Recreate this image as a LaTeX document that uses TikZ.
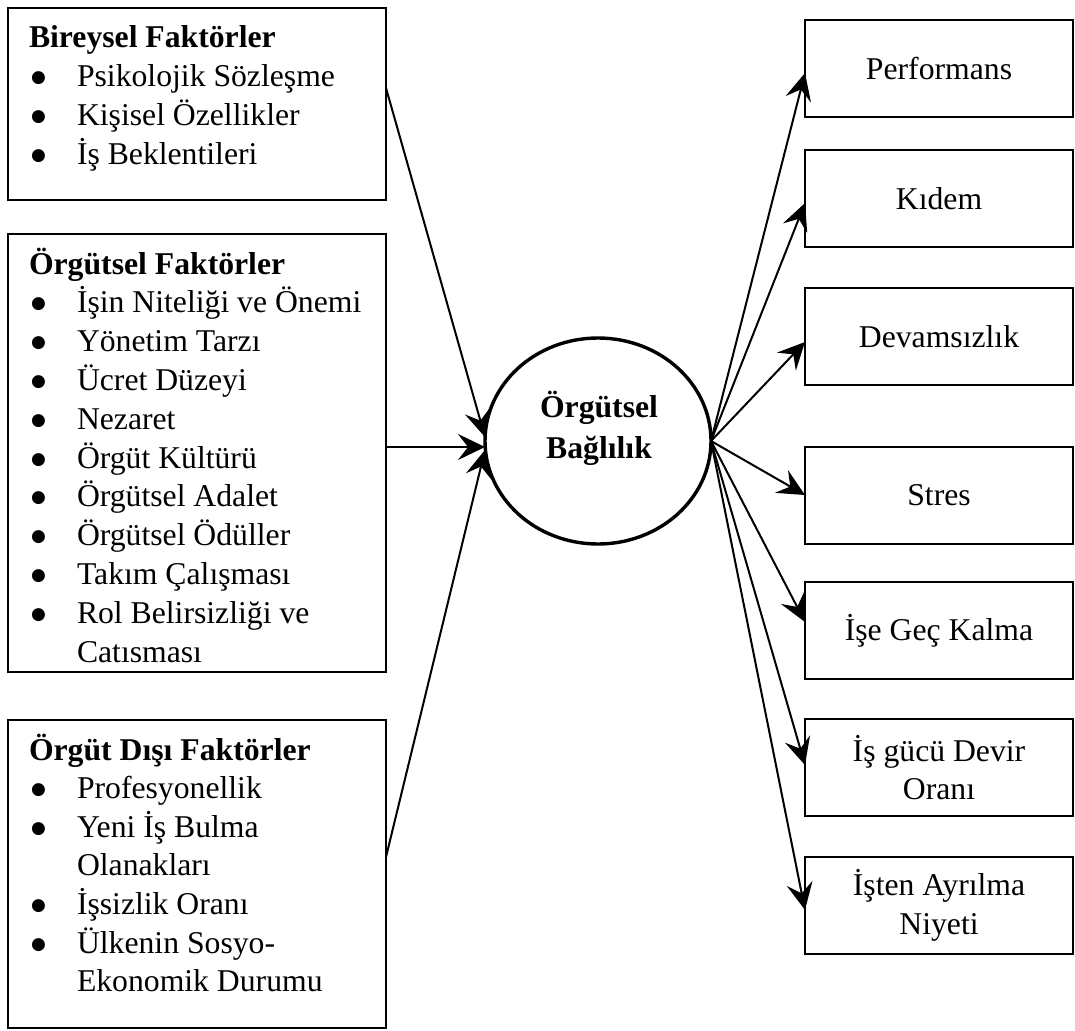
\documentclass[tikz,border=0pt]{standalone}
\usepackage{fontspec}
\setmainfont{Liberation Serif}
\newfontfamily\dotfont{DejaVu Sans}
\usetikzlibrary{arrows.meta,shapes.geometric}

\newcommand{\diagfont}{\fontsize{31.7pt}{38.7pt}\selectfont}
\newcommand{\bul}{\makebox[48pt][l]{\hspace{2pt}\raisebox{4pt}{\fontsize{17pt}{17pt}\dotfont ●}}}
\newcommand{\cont}{\hspace*{48pt}}

\tikzset{
  frame/.style={draw, line width=1.8pt, inner sep=0pt, outer sep=0pt, anchor=north west},
  leftbox/.style={frame, minimum width=378pt},
  rightbox/.style={frame, minimum width=268pt, minimum height=97pt, align=center, font=\diagfont},
  textline/.style={anchor=base west, inner sep=0pt, outer sep=0pt, font=\diagfont},
  heading/.style={textline, font=\diagfont\bfseries},
  link/.style={line width=2pt, -{Stealth[length=27pt,width=26pt,inset=10pt]}},
}

\begin{document}
\begin{tikzpicture}[x=1pt, y=-1pt]
\useasboundingbox (0,0) rectangle (1075,1030);

% factor boxes on the left
\node[leftbox, minimum height=192pt] (b1) at (8,8) {};
\node[leftbox, minimum height=438pt] (b2) at (8,234) {};
\node[leftbox, minimum height=308pt] (b3) at (8,720) {};

\node[heading] (b1t) at (29,48) {Bireysel Faktörler};
\foreach [count=\i] \t in {\bul Psikolojik Sözleşme, \bul Kişisel Özellikler, \bul İş Beklentileri}
  \node[textline] (b1l\i) at (29,{48+38.8*\i}) {\t};

\node[heading] (b2t) at (29,274) {Örgütsel Faktörler};
\foreach [count=\i] \t in {\bul İşin Niteliği ve Önemi, \bul Yönetim Tarzı, \bul Ücret Düzeyi,
    \bul Nezaret, \bul Örgüt Kültürü, \bul Örgütsel Adalet, \bul Örgütsel Ödüller,
    \bul Takım Çalışması, \bul Rol Belirsizliği ve, \cont Catısması}
  \node[textline] (b2l\i) at (29,{274+38.8*\i}) {\t};

\node[heading] (b3t) at (29,760) {Örgüt Dışı Faktörler};
\foreach [count=\i] \t in {\bul Profesyonellik, \bul Yeni İş Bulma, \cont Olanakları,
    \bul İşsizlik Oranı, \bul Ülkenin Sosyo-, \cont Ekonomik Durumu}
  \node[textline] (b3l\i) at (29,{760+38.6*\i}) {\t};

% central concept
\node[draw, ellipse, line width=3.4pt, minimum width=226pt, minimum height=206pt,
      inner sep=0pt, outer sep=0pt] (c) at (598,441) {};
\node[align=center, inner sep=0pt, font=\diagfont\bfseries] (ct) at (599,428)
      {Örgütsel\\[2pt]Bağlılık};

% outcome boxes on the right
\foreach [count=\i] \top/\t in {20/Performans, 150/Kıdem, 288/Devamsızlık, 447/Stres,
    582/İşe Geç Kalma, 719/İş gücü Devir\\Oranı, 857/İşten Ayrılma\\Niyeti}
  \node[rightbox] (r\i) at (805,\top) {\t};

% antecedents -> commitment
\draw[link] ([yshift=16pt]b1.east) -- ([yshift=4pt]c.west);
\draw[link] ([yshift=6pt]b2.east) -- ([yshift=-6pt]c.west);
\draw[link] ([yshift=17pt]b3.east) -- ([yshift=-9pt]c.west);

% commitment -> outcomes
\foreach \i/\s in {1/-4.5, 2/-4.5, 3/-5.5, 4/0.5, 5/8.5, 6/2.5, 7/-4.5}
  \draw[link] (c.east) -- ([yshift=\s pt]r\i.west);
\end{tikzpicture}
\end{document}
